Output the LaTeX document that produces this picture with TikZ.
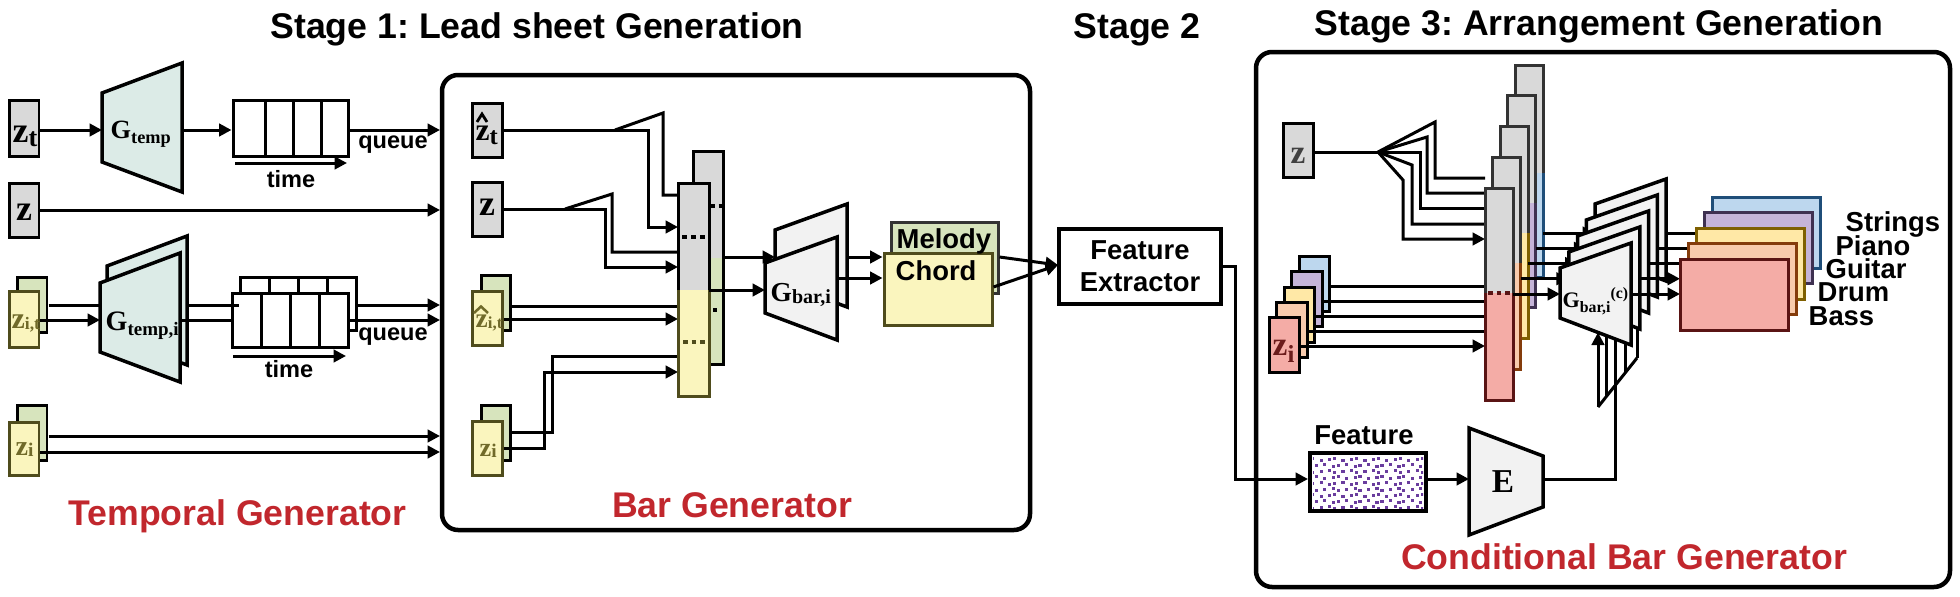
\documentclass[tikz,border=0pt]{standalone}
\usepackage{fontspec}
\setmainfont{Liberation Sans}
\newfontfamily\tms{Liberation Serif}
\usetikzlibrary{arrows.meta}
\frenchspacing
\definecolor{grayf}{HTML}{D9D9D9}
\definecolor{tealf}{HTML}{DCEBE7}
\definecolor{greenf}{HTML}{D7E4BD}
\definecolor{yellowf}{HTML}{FAF5BE}
\definecolor{olived}{HTML}{4F4C1C}
\definecolor{olivet}{HTML}{706A2A}
\definecolor{trapf}{HTML}{F2F2F2}
\definecolor{redt}{HTML}{C1272D}
\definecolor{blf}{HTML}{BDD7EE}\definecolor{bld}{HTML}{1F4E79}
\definecolor{puf}{HTML}{C5B4D8}\definecolor{pud}{HTML}{3F3151}
\definecolor{yef}{HTML}{FFE8A6}\definecolor{yed}{HTML}{7F6000}
\definecolor{pef}{HTML}{F8CBAD}\definecolor{ped}{HTML}{843C0C}
\definecolor{pif}{HTML}{F4ACA6}\definecolor{pid}{HTML}{5A1414}
\definecolor{maroont}{HTML}{6B1B1B}
\definecolor{dotc}{HTML}{6A3D9E}
\newcommand{\zlab}[4]{{\tms\bfseries\fontsize{#1}{#1}\selectfont z\raisebox{-#4}{\fontsize{#2}{#2}\selectfont #3}}}
\newcommand{\glab}[4]{{\tms\bfseries\fontsize{#1}{#1}\selectfont G\raisebox{-#4}{\fontsize{#2}{#2}\selectfont #3}}}
\begin{document}
\begin{tikzpicture}[x=0.1mm,y=-0.1mm,
  ln/.style={line width=0.3mm},
  arr/.style={line width=0.3mm,-{Triangle[length=1.25mm,width=1.25mm]}},
  bx/.style={draw,line width=0.3mm,inner sep=0,minimum width=3mm,minimum height=5.5mm},
  trap/.style={draw,line width=0.35mm},
  txt/.style={inner sep=0,anchor=base},
  titletxt/.style={txt,font=\bfseries\fontsize{10.15}{12}\selectfont},
  redcap/.style={titletxt,text=redt},
  midtxt/.style={txt,font=\bfseries\fontsize{7.8}{9.1}\selectfont},
  smalltxt/.style={txt,font=\bfseries\fontsize{6.7}{8}\selectfont},
  mlab/.style={inner sep=0,anchor=base west},
]
\useasboundingbox (0,0) rectangle (1960,597);

% ---------- titles ----------
\node[titletxt] (t1) at (537,38) {Stage 1: Lead sheet Generation};
\node[titletxt] (t2) at (1137,39) {Stage 2};
\node[titletxt] (t3) at (1599,35) {Stage 3: Arrangement Generation};

% ---------- temporal generator ----------
\node[bx,fill=grayf,minimum height=5.6mm] (zt) at (24,128) {};
\node[mlab] (ztl) at (12,143) {\zlab{10.2}{7.5}{t}{1.1pt}};
\node[bx,fill=grayf,minimum height=5.4mm] (za) at (24,210) {};
\node[txt] (zal) at (24,220) {\zlab{10.2}{7}{}{0pt}};
\node[bx,fill=greenf,minimum height=5.5mm] (zitb) at (32,304.5) {};
\node[bx,fill=yellowf,draw=olived,minimum height=5.6mm] (zitf) at (24,319) {};
\node[mlab,text=olivet] (zitl) at (11,328) {\zlab{8.5}{5}{i,t}{0.5pt}};
\node[bx,fill=greenf,minimum height=5.5mm] (zib) at (32,432.5) {};
\node[bx,fill=yellowf,draw=olived,minimum height=5.3mm] (zif) at (24,448.5) {};
\node[mlab,text=olivet] (zil) at (15,455) {\zlab{8}{5.5}{i}{0.5pt}};

\draw[trap,fill=tealf] (102,93) -- (182,63) -- (182,192) -- (102,162) -- cycle;
\coordinate (gtin) at (102,130); \coordinate (gtout) at (182,130);
\node[mlab] (gtl) at (110,138) {\glab{7.5}{5.2}{temp}{1.7pt}};

\node[bx,fill=white,minimum width=11.5mm,minimum height=5.6mm] (q1) at (290.5,128) {};
\foreach \x in {265,293,321} \draw[ln] (\x,100) -- (\x,156);
\coordinate (in1) at (440,130);
\draw[arr] (zt.east |- gtin) -- (gtin);
\draw[arr] (gtout) -- (q1.west |- gtout);
\draw[arr] (q1.east |- in1) -- (in1);
\coordinate (ta1) at (235,163); \coordinate (tb1) at (347,163);
\draw[arr] (ta1) -- (tb1);
\node[smalltxt] (time1) at (291,187) {time};
\node[smalltxt] (queue1) at (393,148) {queue};
\coordinate (in2) at (440,210);
\draw[arr] (za.east |- in2) -- (in2);

\draw[trap,fill=tealf] (107,266) -- (187,236) -- (187,365) -- (107,335) -- cycle;
\draw[trap,fill=tealf] (100,283) -- (180,253) -- (180,382) -- (100,352) -- cycle;
\node[mlab] (gtil) at (105,330) {\glab{8}{5.4}{temp,i}{1.7pt}};
\draw[ln] (zitb.east |- 0,305) -- (100,305);
\draw[arr] (zitf.east |- 0,320) -- (100,320);

\node[bx,fill=white,minimum width=11.6mm,minimum height=5.3mm] (q2b) at (298,303.5) {};
\foreach \x in {269,298,327} \draw[ln] (\x,277) -- (\x,330);
\node[bx,fill=white,minimum width=11.6mm,minimum height=5.4mm] (q2f) at (290,320) {};
\foreach \x in {261,290,319} \draw[ln] (\x,293) -- (\x,347);
\draw[ln] (187,305) -- (q2b.west |- 0,305);
\draw[ln] (180,320) -- (q2f.west |- 0,320);
\draw[arr] (q2b.east |- 0,305) -- (440,305);
\draw[arr] (q2f.east |- 0,320) -- (440,320);
\coordinate (ta2) at (233,356); \coordinate (tb2) at (346,356);
\draw[arr] (ta2) -- (tb2);
\node[smalltxt] (time2) at (289,377) {time};
\node[smalltxt] (queue2) at (393,340) {queue};
\draw[arr] (zib.east |- 0,436) -- (440,436);
\draw[arr] (zif.east |- 0,452) -- (440,452);
\node[redcap] (cap1) at (237.5,525) {Temporal Generator};

% ---------- bar generator ----------
\node[draw,line width=0.45mm,rounded corners=1.6mm,inner sep=0,minimum width=58.8mm,minimum height=45.5mm] (barbox) at (736,302.5) {};

\node[bx,fill=grayf,minimum height=5.4mm] (zht) at (487,130) {};
\node[mlab] (zhtl) at (475,140) {\zlab{9}{7}{t}{1.4pt}};
\draw[line width=0.28mm] (477,122) -- (482,114) -- (487,122);
\node[bx,fill=grayf,minimum height=5.4mm] (zbz) at (487,209) {};
\node[txt] (zbzl) at (487,215) {\zlab{10.2}{7}{}{0pt}};
\node[bx,fill=greenf,minimum width=2.9mm,minimum height=5.5mm] (zhitb) at (495.5,302.5) {};
\node[bx,fill=yellowf,draw=olived,minimum height=5.4mm] (zhitf) at (487,318) {};
\node[mlab,text=olivet] (zhitl) at (475,327) {\zlab{7.8}{4.8}{i,t}{0.5pt}};
\draw[line width=0.25mm,olivet] (474,313) -- (481,306.5) -- (488,313);
\node[bx,fill=greenf,minimum width=2.9mm,minimum height=5.5mm] (zbib) at (495.5,432.5) {};
\node[bx,fill=yellowf,draw=olived,minimum height=5.4mm] (zbif) at (487,448) {};
\node[mlab,text=olivet] (zbil) at (479,456) {\zlab{7.5}{5.5}{i}{0.5pt}};

\draw[arr] (zht.east |- 0,130) -- (648,130) -- (648,227) -- (678,227);
\draw[ln] (615,130) -- (663,113) -- (663,195) -- (678,195);
\draw[arr] (zbz.east |- 0,209) -- (605,209) -- (605,267) -- (678,267);
\draw[ln] (565,209) -- (612,194) -- (612,252) -- (678,252);
\draw[ln] (zhitb.east |- 0,306) -- (678,306);
\draw[arr] (zhitf.east |- 0,319) -- (678,319);
\draw[ln] (zbib.east |- 0,432) -- (552,432) -- (552,356) -- (678,356);
\draw[arr] (zbif.east |- 0,448) -- (544,448) -- (544,372) -- (678,372);

% columns
\fill[grayf] (693,151) rectangle (723,258);
\fill[greenf] (693,258) rectangle (723,364);
\draw[ln] (693,151) rectangle (723,364);
\draw[line width=0.35mm,dash pattern=on 0.45mm off 0.4mm] (710,206) -- (723,206);
\fill (713,308) rectangle (717,312);
\fill[grayf] (678,183) rectangle (709,290);
\fill[yellowf] (678,290) rectangle (709,396);
\draw[ln] (678,290) -- (678,183) -- (709,183) -- (709,290);
\draw[ln,olived] (678,290) -- (678,396) -- (709,396) -- (709,290);
\draw[line width=0.35mm,dash pattern=on 0.5mm off 0.4mm] (682,237) -- (708,237);
\draw[line width=0.35mm,olived,dash pattern=on 0.45mm off 0.4mm] (683,342) -- (705,342);

% G_bar
\draw[trap,fill=trapf] (775,230) -- (847,204) -- (847,307) -- (775,280) -- cycle;
\draw[arr] (723,257) -- (775,257);
\draw[trap,fill=trapf] (765,263) -- (837,237) -- (837,340) -- (765,313) -- cycle;
\draw[arr] (709,290) -- (765,290);
\node[mlab] (gbl) at (770,301) {\glab{7.8}{5.7}{bar,i}{0.85pt}};

\node[draw=black!80,line width=0.3mm,fill=greenf,inner sep=0,minimum width=10.7mm,minimum height=7.1mm] (mel) at (944.5,257.5) {};
\node[draw=olived,line width=0.3mm,fill=yellowf,inner sep=0,minimum width=10.8mm,minimum height=7.2mm] (chord) at (938,289) {};
\node[midtxt,anchor=base west] (melt) at (896,248) {Melody};
\node[midtxt,anchor=base west] (chot) at (895,280) {Chord};
\draw[arr] (847,257) -- (chord.west |- 0,257);
\draw[arr] (837,278) -- (chord.west |- 0,278);
\node[redcap] (cap2) at (732,517) {Bar Generator};

% ---------- stage 2 ----------
\node[draw,line width=0.42mm,inner sep=0,minimum width=16.2mm,minimum height=7.5mm,align=center,font=\bfseries\fontsize{7.8}{9.1}\selectfont] (fe) at (1140,266.5) {Feature\\Extractor};
\coordinate (fein) at (1058,265);
\draw[arr] (mel.east |- 0,257) -- (fein);
\draw[arr] (chord.east |- 0,287) -- (fein);

% ---------- stage 3 ----------
\node[draw,line width=0.45mm,rounded corners=1.6mm,inner sep=0,minimum width=69.4mm,minimum height=53.5mm] (s3box) at (1603,319.5) {};

\node[bx,fill=grayf,minimum height=5.4mm] (zs) at (1298,150) {};
\node[txt,text=black!75] (zsl) at (1298,163) {\zlab{9.5}{7}{}{0pt}};
\coordinate (fk) at (1378,152);
\draw[ln] (zs.east |- fk) -- (fk);
\draw[ln] (fk) -- (1435,122) -- (1435,178) -- (1485,178);
\draw[ln] (fk) -- (1427,137) -- (1427,193) -- (1485,193);
\draw[ln] (fk) -- (1420,152) -- (1420,208) -- (1485,208);
\draw[ln] (fk) -- (1412,165) -- (1412,224) -- (1485,224);
\draw[arr] (fk) -- (1403,180) -- (1403,239) -- (1485,239);

\foreach \k/\cf in {4/blf,3/puf,2/yef,1/pef,0/pif} {
  \node[bx,fill=\cf,minimum width=3.05mm,minimum height=5.5mm] (zs\k) at ({1284.5+7.5*\k},{345-15.25*\k}) {};
}
\node[mlab,text=maroont] (zsil) at (1272,355) {\zlab{9.5}{7}{i}{2pt}};
\foreach \k in {1,...,4} {
  \pgfmathsetmacro\yy{346-15*\k}
  \draw[ln] (zs\k.east |- 0,\yy) -- (1485,\yy);
}
\draw[arr] (zs0.east |- 0,346) -- (1485,346);

% stacked columns
\foreach \k/\cf/\cd in {4/blf/bld,3/puf/pud,2/yef/yed,1/pef/ped,0/pif/pid} {
  \pgfmathsetmacro\xl{1485+7.5*\k}
  \pgfmathsetmacro\xr{1513+7.5*\k}
  \pgfmathsetmacro\yt{188-30.75*\k}
  \pgfmathsetmacro\ys{293-30*\k}
  \pgfmathsetmacro\yb{400-30.75*\k}
  \fill[grayf] (\xl,\yt) rectangle (\xr,\ys);
  \fill[\cf] (\xl,\ys) rectangle (\xr,\yb);
  \draw[ln,black!80] (\xl,\ys) -- (\xl,\yt) -- (\xr,\yt) -- (\xr,\ys);
  \draw[ln,\cd] (\xl,\ys) -- (\xl,\yb) -- (\xr,\yb) -- (\xr,\ys);
}
\draw[line width=0.35mm,pid,dash pattern=on 0.45mm off 0.4mm] (1488,293) -- (1511,293);

% conditioning fork from E
\coordinate (eout) at (1543,479);
\draw[ln] (1598,407) -- (1637,358);
\draw[arr] (1598,407) -- (1598,332.5);
\foreach \x in {1606,1625,1637} {
  \pgfmathsetmacro\yy{407-(\x-1598)*49/39}
  \draw[ln] (\x,\yy) -- (\x,300);
}
\draw[ln] (eout) -- (1615,479) -- (1615,300);

% conditional bar generators
\foreach \k in {4,3,2,1,0} {
  \pgfmathsetmacro\yl{294-15.25*\k}
  \pgfmathsetmacro\cx{1513+7.5*\k}
  \pgfmathsetmacro\tl{1560+8.75*\k}
  \pgfmathsetmacro\tr{1631+8.75*\k}
  \pgfmathsetmacro\ya{268-16*\k}
  \pgfmathsetmacro\yb{243-16*\k}
  \pgfmathsetmacro\yc{345-16*\k}
  \pgfmathsetmacro\yd{318-16*\k}
  \draw[arr] (\cx,\yl) -- (\tl,\yl);
  \draw[trap,fill=trapf] (\tl,\ya) -- (\tr,\yb) -- (\tr,\yc) -- (\tl,\yd) -- cycle;
}
\node[mlab] (gcl) at (1562,307) {\tms\bfseries\fontsize{6.3}{6.3}\selectfont G\raisebox{-1.7pt}{\fontsize{4.5}{4.5}\selectfont bar,i}\raisebox{2.4pt}{\fontsize{4.5}{4.5}\selectfont (c)}};

% outputs to instrument tracks
\draw[arr] (1631,294) -- (1680,294);
\draw[arr] (1639.75,278.75) -- (1680,278.75);
\draw[ln] (1648.5,263.5) -- (1688,263.5);
\draw[ln] (1657.25,248.25) -- (1696,248.25);
\draw[ln] (1666,233) -- (1704,233);

\foreach \k/\cf/\cd in {4/blf/bld,3/puf/pud,2/yef/yed,1/pef/ped,0/pif/pid} {
  \node[draw=\cd,line width=0.3mm,fill=\cf,inner sep=0,minimum width=10.8mm,minimum height=7.1mm] (ins\k) at ({1734+8*\k},{294.5-15.5*\k}) {};
}
\node[midtxt,anchor=base west] (lstr) at (1845,231) {Strings};
\node[midtxt,anchor=base west] (lpia) at (1835,255) {Piano};
\node[midtxt,anchor=base west] (lgui) at (1825,278) {Guitar};
\node[midtxt,anchor=base west] (ldru) at (1817,301) {Drum};
\node[midtxt,anchor=base west] (lbas) at (1808,325) {Bass};

% feature and encoder
\node[draw,line width=0.4mm,fill=white,inner sep=0,minimum width=11.6mm,minimum height=5.8mm] (feat) at (1368,482) {};
\begin{scope}
  \clip (1313,456) rectangle (1423,508);
  \foreach \r in {0,...,8} {
    \foreach \c in {0,...,15} {
      \pgfmathsetmacro\xx{1311+7.3*\c+3.6*mod(\r,2)+1.2*mod(\c*7+\r*3,3)}
      \pgfmathsetmacro\yy{460+6.0*\r+1.0*mod(\c*5+\r,3)}
      \fill[dotc] (\xx,\yy) rectangle ++(3.2,-3.2);
    }
  }
\end{scope}
\node[midtxt] (featl) at (1364,444) {Feature};
\draw[arr] (fe.east |- 0,266) -- (1235,266) -- (1235,479) -- (feat.west |- 0,479);
\coordinate (ein) at (1469,479);
\draw[arr] (feat.east |- ein) -- (ein);
\draw[trap,fill=trapf] (1469,428) -- (1543,456) -- (1543,507) -- (1469,535) -- cycle;
\node[txt] (el) at (1503,492) {\tms\bfseries\fontsize{9.5}{9.5}\selectfont E};
\node[redcap] (cap3) at (1624,569) {Conditional Bar Generator};
\end{tikzpicture}
\end{document}
